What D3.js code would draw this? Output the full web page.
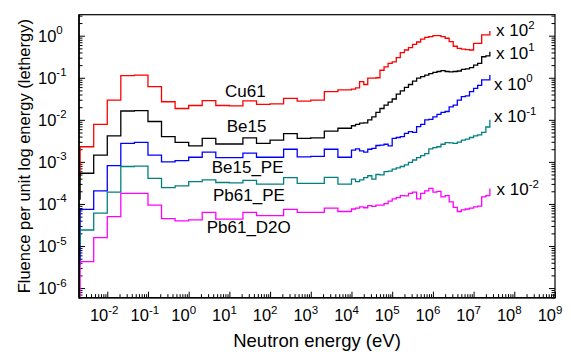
<!DOCTYPE html>
<html><head><meta charset="utf-8">
<script src="https://cdn.jsdelivr.net/npm/d3@7"></script>
<style>
body{margin:0;background:#fff}
svg{display:block}
text{font-family:"Liberation Sans",Arial,sans-serif;fill:#000}
</style>
</head><body>
<svg id="c" width="571" height="354"></svg>
<script>
// ---- data ----
const energyEdges = [
  2.15e-3, 4.64e-3, 1.0e-2, 2.15e-2, 4.64e-2, 0.1, 0.215, 0.464, 1, 2.15, 4.64, 10, 21.5, 46.4, 100, 215, 464, 1000, 2150, 4640,
  1e4, 1.26e4, 1.58e4, 2.0e4, 2.51e4, 3.16e4, 3.98e4, 5.01e4, 6.31e4, 7.94e4,
  1e5, 1.26e5, 1.58e5, 2.0e5, 2.51e5, 3.16e5, 3.98e5, 5.01e5, 6.31e5, 7.94e5,
  1e6, 1.26e6, 1.58e6, 2.0e6, 2.51e6, 3.16e6, 3.98e6, 5.01e6, 6.31e6, 7.94e6,
  1e7, 1.26e7, 1.58e7, 2.0e7, 2.51e7
];
const cu61 = [
  2.29e-3, 7.82e-3, 2.95e-2, 0.112, 0.116, 0.0617, 0.0269, 0.0186, 0.0219, 0.0285,
  0.0219, 0.0214, 0.0282, 0.0234, 0.0240, 0.0324, 0.0280, 0.0295, 0.0468, 0.0513,
  0.0537, 0.0575, 0.0813, 0.0692, 0.0977, 0.0977, 0.100, 0.151, 0.182, 0.219,
  0.240, 0.302, 0.398, 0.457, 0.519, 0.624, 0.708, 0.832, 0.912, 0.955,
  1.0, 1.0, 0.955, 0.871, 0.724, 0.562, 0.501, 0.479, 0.468, 0.457,
  0.661, 0.661, 1.05, 1.05
];
const be15 = [
  5.37e-4, 1.45e-3, 4.17e-3, 0.0162, 0.0166, 9.12e-3, 3.98e-3, 2.92e-3, 2.40e-3, 3.63e-3,
  2.66e-3, 2.66e-3, 3.72e-3, 2.75e-3, 3.31e-3, 4.68e-3, 3.63e-3, 3.72e-3, 5.37e-3, 6.31e-3,
  7.24e-3, 7.76e-3, 8.32e-3, 8.51e-3, 0.0100, 0.0117, 0.0151, 0.0186, 0.0224, 0.0263,
  0.0313, 0.0407, 0.0490, 0.0589, 0.0692, 0.0832, 0.0977, 0.106, 0.116, 0.126,
  0.135, 0.141, 0.148, 0.141, 0.138, 0.141, 0.145, 0.158, 0.162, 0.174,
  0.200, 0.219, 0.316, 0.331
];
const be15PE = [
  7.41e-5, 2.04e-4, 8.13e-4, 2.75e-3, 2.92e-3, 1.45e-3, 1.00e-3, 1.07e-3, 1.29e-3, 1.70e-3,
  1.26e-3, 1.26e-3, 1.62e-3, 1.29e-3, 1.29e-3, 2.00e-3, 1.32e-3, 1.35e-3, 2.00e-3, 1.29e-3,
  1.91e-3, 2.04e-3, 1.82e-3, 1.70e-3, 2.00e-3, 2.09e-3, 2.45e-3, 2.51e-3, 2.63e-3, 2.40e-3,
  3.63e-3, 3.80e-3, 3.98e-3, 4.79e-3, 5.25e-3, 5.01e-3, 6.92e-3, 7.76e-3, 0.0100, 0.0102,
  0.0117, 0.0135, 0.0151, 0.0158, 0.0204, 0.0224, 0.0295, 0.0355, 0.0372, 0.0468,
  0.0562, 0.0661, 0.0891, 0.0891
];
const pb61PE = [
  2.40e-5, 6.03e-5, 1.91e-4, 7.76e-4, 7.94e-4, 4.07e-4, 2.45e-4, 2.69e-4, 3.39e-4, 3.72e-4,
  3.24e-4, 3.16e-4, 3.63e-4, 2.95e-4, 2.95e-4, 4.22e-4, 3.09e-4, 3.09e-4, 4.27e-4, 2.95e-4,
  3.89e-4, 3.39e-4, 3.72e-4, 4.22e-4, 4.68e-4, 3.89e-4, 5.01e-4, 4.90e-4, 5.89e-4, 6.03e-4,
  6.76e-4, 7.24e-4, 7.76e-4, 8.51e-4, 9.77e-4, 1.11e-3, 1.26e-3, 1.41e-3, 1.58e-3, 2.04e-3,
  2.19e-3, 2.29e-3, 2.63e-3, 2.88e-3, 2.82e-3, 2.75e-3, 2.95e-3, 3.31e-3, 3.47e-3, 3.80e-3,
  4.17e-3, 4.37e-3, 5.01e-3, 6.76e-3
];
const pb61D2O = [
  4.27e-6, 1.58e-5, 5.01e-5, 1.78e-4, 1.78e-4, 9.33e-5, 4.47e-5, 3.98e-5, 4.17e-5, 6.31e-5,
  4.37e-5, 4.37e-5, 6.31e-5, 5.25e-5, 5.25e-5, 7.41e-5, 6.31e-5, 6.31e-5, 7.94e-5, 6.61e-5,
  7.59e-5, 7.94e-5, 8.51e-5, 8.13e-5, 9.12e-5, 8.71e-5, 9.33e-5, 9.33e-5, 1.02e-4, 1.17e-4,
  1.32e-4, 1.41e-4, 1.58e-4, 1.55e-4, 1.78e-4, 1.91e-4, 1.32e-4, 1.78e-4, 2.04e-4, 2.34e-4,
  1.91e-4, 2.00e-4, 1.48e-4, 1.58e-4, 1.12e-4, 8.32e-5, 6.61e-5, 7.24e-5, 7.59e-5, 7.94e-5,
  8.51e-5, 8.91e-5, 1.48e-4, 1.58e-4
];
const seriesNames = ["Cu61", "Be15", "Be15_PE", "Pb61_PE", "Pb61_D2O"];
const seriesValues = [cu61, be15, be15PE, pb61PE, pb61D2O];
const leftValues = [4.47e-4, 1.26e-4, 3.55e-6, 1.0e-5, 3.16e-7];   // value before the first edge
const rightValues = [1.29, 0.417, 0.117, 0.0100, 2.34e-4];         // value after the last edge
const multiplierExps = ["2", "1", "0", "-1", "-2"];
const xTickExps = ["-2", "-1", "0", "1", "2", "3", "4", "5", "6", "7", "8", "9"];
const yTickExps = ["0", "-1", "-2", "-3", "-4", "-5", "-6"];

// ---- styles / layout ----
const colors = ["#ff0000", "#000000", "#0000ff", "#008080", "#ff00ff"];
const L = 79, R = 555, T = 14.7, B = 297.7;
const nameLabelPos = [[225, 96.7], [226.7, 132.2], [211.7, 172.5], [213, 201.3], [206.7, 233]];
const multLabelPos = [[496, 36], [496, 58.5], [494, 89.5], [494, 122], [496.5, 195]];

const svg = d3.select("#c");
const x = d3.scaleLog().domain([2.02e-3, 1e9]).range([L, R]);
const y = d3.scaleLog().domain([5.9e-7, 3.16]).range([B, T]);

svg.append("defs").append("clipPath").attr("id", "clip")
  .append("rect").attr("x", L).attr("y", T).attr("width", R - L).attr("height", B - T);

// ticks
const xMajor = xTickExps.map(e => Math.pow(10, +e));
const yMajor = yTickExps.map(e => Math.pow(10, +e));
const xMinor = [], yMinor = [];
for (let d = -3; d <= 8; d++) for (let k = 2; k <= 9; k++) {
  const v = k * Math.pow(10, d);
  if (v > x.domain()[0] && v < x.domain()[1]) xMinor.push(v);
}
for (let d = -7; d <= 0; d++) for (let k = 2; k <= 9; k++) {
  const v = k * Math.pow(10, d);
  if (v > y.domain()[0] && v < y.domain()[1]) yMinor.push(v);
}
function ax(gen, vals, size, tr) {
  const g = svg.append("g").attr("transform", tr)
    .call(gen.tickValues(vals).tickSizeInner(size).tickSizeOuter(0).tickFormat(""));
  g.select(".domain").remove();
  g.selectAll("line").attr("stroke", "#000").attr("stroke-width", 1);
}
ax(d3.axisBottom(x), xMajor, -6, `translate(0,${B})`);
ax(d3.axisBottom(x), xMinor, -3.5, `translate(0,${B})`);
ax(d3.axisLeft(y), yMajor, -6, `translate(${L},0)`);
ax(d3.axisLeft(y), yMinor, -3.5, `translate(${L},0)`);
ax(d3.axisRight(y), yMajor, -6, `translate(${R},0)`);
ax(d3.axisRight(y), yMinor, -3.5, `translate(${R},0)`);

// series
const line = d3.line().x(d => x(d[0])).y(d => y(d[1])).curve(d3.curveStepAfter);
const plot = svg.append("g").attr("clip-path", "url(#clip)");
seriesValues.forEach((vals, s) => {
  const pts = [[energyEdges[0], leftValues[s]]];
  vals.forEach((v, i) => pts.push([energyEdges[i], v]));
  pts.push([energyEdges[energyEdges.length - 1], rightValues[s]]);
  plot.append("path").attr("d", line(pts)).attr("fill", "none")
    .attr("stroke", colors[s]).attr("stroke-width", 1.3);
});

// frame
svg.append("rect").attr("x", L).attr("y", T).attr("width", R - L).attr("height", B - T)
  .attr("fill", "none").attr("stroke", "#000").attr("stroke-width", 1.2);
svg.append("line").attr("x1", L).attr("x2", L).attr("y1", T).attr("y2", B + 0.7)
  .attr("stroke", "#000").attr("stroke-width", 1.6);
svg.append("line").attr("x1", L).attr("x2", R + 0.6).attr("y1", B).attr("y2", B)
  .attr("stroke", "#000").attr("stroke-width", 1.6);

// x tick labels
xTickExps.forEach((e, i) => {
  const t = svg.append("text").attr("y", 321).style("font-size", "16.5px");
  t.append("tspan").text("10");
  t.append("tspan").attr("dy", -7.5).style("font-size", "11.5px").text(e);
  const w = t.node().getSubStringLength(0, 2);
  t.attr("x", x(xMajor[i]) + 1 - w);
});
// y tick labels
yTickExps.forEach((e, i) => {
  const t = svg.append("text").attr("x", 38).attr("y", y(yMajor[i]) + 6).style("font-size", "16.5px");
  t.append("tspan").text("10");
  t.append("tspan").attr("dy", -7.5).style("font-size", "11.5px").text(e);
});

// axis titles
svg.append("text").attr("x", (L + R) / 2).attr("y", 347).attr("text-anchor", "middle")
  .style("font-size", "18.5px").text("Neutron energy (eV)");
svg.append("text").attr("transform", `translate(30,${(T + B) / 2}) rotate(-90)`)
  .attr("text-anchor", "middle").style("font-size", "16.5px")
  .text("Fluence per unit log energy (lethergy)");

// series labels
seriesNames.forEach((n, s) => {
  svg.append("text").attr("x", nameLabelPos[s][0]).attr("y", nameLabelPos[s][1])
    .style("font-size", "17px").text(n);
});
// multiplier labels
multiplierExps.forEach((e, s) => {
  const t = svg.append("text").attr("x", multLabelPos[s][0]).attr("y", multLabelPos[s][1])
    .style("font-size", "17px");
  t.append("tspan").text("x 10");
  t.append("tspan").attr("dy", -7.5).style("font-size", "11.5px").text(e);
});
</script>
</body></html>
